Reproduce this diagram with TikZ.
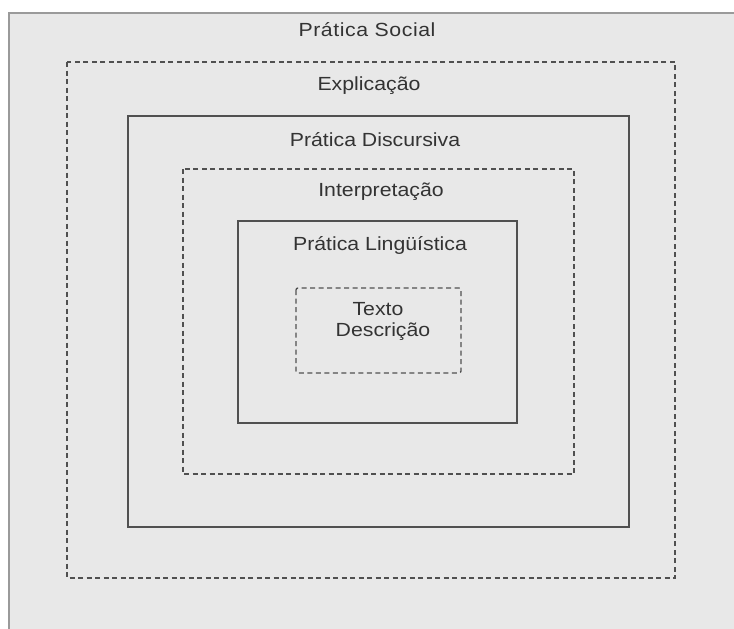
\documentclass[tikz,border=0pt]{standalone}
\usepackage{fontspec}
\setmainfont{Liberation Sans}[FakeStretch=1.12]
\definecolor{panel}{HTML}{E8E8E8}
\definecolor{frame}{HTML}{9A9A9A}
\definecolor{boxline}{HTML}{505050}
\definecolor{txt}{HTML}{333333}
\tikzset{
    solidbox/.style={draw=boxline, line width=1.4pt},
    dashbox/.style={draw=boxline, line width=1.3pt, dash pattern=on 5pt off 3.5pt},
    label/.style={text=txt, font=\fontsize{19}{22}\selectfont, inner sep=0pt}
}
\begin{document}
\begin{tikzpicture}[x=1pt, y=-1pt]
        \useasboundingbox (0,0) rectangle (734,629);
        \fill[white] (0,0) rectangle (734,629);
        \fill[panel] (9,13) rectangle (734,629);
        \draw[frame, line width=1.6pt] (9,629)--(9,13)--(734,13);
        \draw[dashbox] (67,62) rectangle (675,578);
        \draw[solidbox] (128,116) rectangle (629,527);
        \draw[dashbox] (183,169) rectangle (574,474);
        \draw[solidbox] (238,221) rectangle (517,423);
        \draw[dashbox, rounded corners=2pt] (296,288) rectangle (461,373);
        \node[label] (social) at (367, 30) {\addfontfeature{LetterSpace=3}Prática Social};
        \node[label] (explic) at (369, 86) {Explicação};
        \node[label] (discur) at (375, 140) {Prática Discursiva};
        \node[label] (interp) at (381, 192) {Interpretação};
        \node[label] (lingu) at (380, 245) {Prática Lingüística};
        \node[label] (texto) at (378, 309) {Texto};
        \node[label] (descr) at (383, 332) {Descrição};
    \end{tikzpicture}
\end{document}
